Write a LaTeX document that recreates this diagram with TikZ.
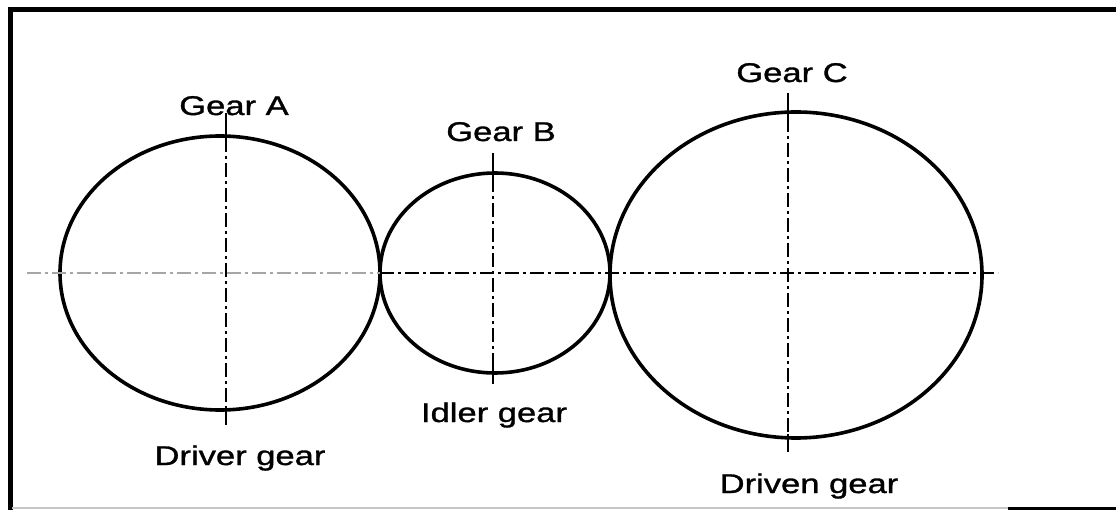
\documentclass[tikz,border=0pt]{standalone}
\usepackage{fontspec}
\setmainfont{Liberation Sans}[FakeStretch=1.28,FakeBold=1.2]
\usepackage{tikz}
\usetikzlibrary{calc}

\tikzset{
  gear/.style={line width=3.6pt},
  centreline/.style={line width=2.2pt, dash pattern=on 14pt off 4pt on 3pt off 4pt},
  gearlabel/.style={anchor=base, inner sep=0pt, font=\fontsize{27}{32}\selectfont}
}

\begin{document}
\begin{tikzpicture}[x=1pt,y=-1pt]
  \useasboundingbox (0,0) rectangle (1116,510);
  % frame
  \draw[line width=5pt] (8,9.5) -- (1116,9.5);
  \draw[line width=5pt] (10.5,7) -- (10.5,510);
  \draw[line width=2pt, gray!45] (12,508) -- (1008,508);
  \draw[line width=3pt] (1008,508.5) -- (1116,508.5);
  % gear centres
  \coordinate (gearA) at (220,273);
  \coordinate (gearB) at (495,273);
  \coordinate (gearC) at (796,275);
  % pitch circles
  \draw[gear] (gearA) ellipse [x radius=160pt, y radius=137pt];
  \draw[gear] (gearB) ellipse [x radius=115pt, y radius=100pt];
  \draw[gear] (gearC) ellipse [x radius=186pt, y radius=163pt];
  % horizontal centre line
  \coordinate (hl) at (27,273);
  \coordinate (hm) at (380,273);
  \coordinate (hr) at (998,273);
  \draw[centreline, gray!70] (hl) -- (hm);
  \draw[centreline] (hm) -- (hr);
  % vertical centre lines
  \foreach \n/\x/\top/\bot in {A/226/113/425, B/493/153/384, C/788/93/452}{
    \coordinate (top\n) at (\x,\top);
    \coordinate (bot\n) at (\x,\bot);
    \draw[centreline] (top\n) -- (bot\n);
    \draw[line width=2.2pt] (top\n) -- ++(0,28);
    \draw[line width=2.2pt] (bot\n) -- ++(0,-18);
  }
  % labels
  \node[gearlabel] (labA) at (234,115) {Gear A};
  \node[gearlabel] (labB) at (501,141) {Gear B};
  \node[gearlabel] (labC) at (792,82) {Gear C};
  \node[gearlabel] (labDriver) at (240,465) {Driver gear};
  \node[gearlabel] (labIdler) at (494,422) {Idler gear};
  \node[gearlabel] (labDriven) at (809,493) {Driven gear};
\end{tikzpicture}
\end{document}
